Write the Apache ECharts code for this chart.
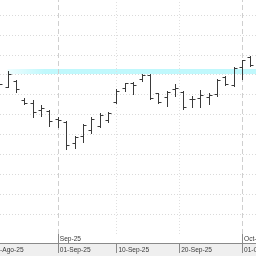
<!DOCTYPE html>
<html>
<head>
<meta charset="utf-8">
<script src="https://cdn.jsdelivr.net/npm/echarts@6/dist/echarts.min.js"></script>
<style>
  html, body { margin: 0; padding: 0; background: #fff; }
  #chart { width: 256px; height: 256px; }
</style>
</head>
<body>
<div id="chart"></div>
<script>
// sesiones (dias habiles)
var dates = ['2025-08-21', '2025-08-22', '2025-08-25', '2025-08-26', '2025-08-27', '2025-08-28', '2025-08-29',
  '2025-09-01', '2025-09-02', '2025-09-03', '2025-09-04', '2025-09-05', '2025-09-08', '2025-09-09',
  '2025-09-10', '2025-09-11', '2025-09-12', '2025-09-15', '2025-09-16', '2025-09-17', '2025-09-18',
  '2025-09-19', '2025-09-22', '2025-09-23', '2025-09-24', '2025-09-25', '2025-09-26', '2025-09-29',
  '2025-09-30', '2025-10-01', '2025-10-02']
var open = [17.73, 17.38, 17.70, 16.71, 16.60, 16.24, 16.18, 15.76, 15.62, 14.57, 14.92, 15.22, 15.42, 15.70,
  16.65, 17.32, 17.58, 17.77, 17.96, 17.06, 16.90, 17.28, 17.13, 16.78, 16.85, 16.88, 17.01, 17.90, 17.48,
  18.40, 18.87]
var high = [17.83, 18.19, 17.75, 16.84, 16.73, 16.46, 16.23, 15.87, 15.67, 14.92, 15.52, 15.87, 16.06, 16.14,
  17.27, 17.60, 17.62, 18.04, 18.02, 17.07, 17.17, 17.53, 17.18, 16.94, 17.23, 17.06, 17.78, 17.93, 18.41,
  18.76, 18.95]
var low = [17.33, 17.36, 17.11, 16.51, 15.86, 15.91, 15.44, 15.35, 14.25, 14.32, 14.62, 15.06, 15.37, 15.61,
  16.56, 17.18, 17.01, 17.70, 16.78, 16.59, 16.44, 16.95, 16.30, 16.40, 16.38, 16.53, 16.95, 17.50, 17.43,
  17.76, 18.45]
var close = [17.53, 18.01, 17.27, 16.60, 16.11, 16.35, 15.67, 15.70, 14.47, 14.89, 15.47, 15.77, 16.00, 16.10,
  17.16, 17.57, 17.50, 17.99, 16.81, 16.63, 17.12, 17.33, 16.38, 16.80, 17.00, 16.98, 17.73, 17.53, 18.36,
  18.72, 18.49]

// etiquetas del eje
var tickDates = ['2025-08-20', '2025-09-01', '2025-09-10', '2025-09-20', '2025-10-01']
var tickLabels = ['20-Ago-25', '01-Sep-25', '10-Sep-25', '20-Sep-25', '01-Oct-25']
var monthDates = ['2025-09-01', '2025-10-01']
var monthLabels = ['Sep-25', 'Oct-25']

// resistencia (maximo del 22-Ago)
var resistStart = 1
var resistLow = 18.04
var resistHigh = 18.28

var xMin = -1.33
var xMax = 30.67

// posicion de una fecha en la escala de sesiones
function dayPos (s) {
  var t0 = Date.parse(dates[0])
  var t = Date.parse(s)
  var day = 86400000
  var n = 0
  var d
  if (t >= t0) {
    for (d = t0; d < t; d += day) {
      var wd = new Date(d).getUTCDay()
      if (wd !== 0 && wd !== 6) n++
    }
  } else {
    for (d = t; d < t0; d += day) {
      var wd2 = new Date(d).getUTCDay()
      if (wd2 !== 0 && wd2 !== 6) n--
    }
  }
  var w = new Date(t).getUTCDay()
  return (w === 0 || w === 6) ? n - 0.5 : n
}

var tickPos = tickDates.map(dayPos)
var monthPos = monthDates.map(dayPos)

function labelFor (pos, list, labels) {
  var best = 0
  for (var i = 1; i < list.length; i++) {
    if (Math.abs(list[i] - pos) < Math.abs(list[best] - pos)) best = i
  }
  return labels[best]
}

var seriesData = dates.map(function (d, i) {
  return [i, open[i], close[i], low[i], high[i]]
})

function renderItem (params, api) {
  var x = api.value(0)
  var o = api.coord([x, api.value(1)])
  var c = api.coord([x, api.value(2)])
  var l = api.coord([x, api.value(3)])
  var h = api.coord([x, api.value(4)])
  var px = Math.round(o[0]) + 0.5
  var oy = Math.round(o[1]) + 0.5
  var cy = Math.round(c[1]) + 0.5
  var st = { stroke: '#3a3a3a', lineWidth: 1 }
  return {
    type: 'group',
    children: [
      { type: 'line', shape: { x1: px, y1: Math.round(h[1]), x2: px, y2: Math.round(l[1]) + 1 }, style: st },
      { type: 'line', shape: { x1: px - 3, y1: oy, x2: px, y2: oy }, style: st },
      { type: 'line', shape: { x1: px, y1: cy, x2: px + 3, y2: cy }, style: st }
    ]
  }
}

var vLines = tickPos.map(function (p) {
  var isMonth = monthPos.indexOf(p) >= 0
  return {
    xAxis: p,
    lineStyle: isMonth
      ? { color: '#cfcfcf', type: [5, 3], width: 1 }
      : { color: '#e0e0e0', type: [1, 2], width: 1 }
  }
})

var chart = echarts.init(document.getElementById('chart'))
chart.setOption({
  animation: false,
  backgroundColor: '#fff',
  graphic: [{
    type: 'rect',
    left: 0,
    bottom: 0,
    z: -10,
    shape: { width: 256, height: 13 },
    style: { fill: '#efefef' }
  }],
  grid: { left: -12, right: 0, top: 0, bottom: 22, containLabel: false, outerBoundsMode: 'none' },
  xAxis: [{
    type: 'value',
    min: xMin,
    max: xMax,
    position: 'bottom',
    offset: 9,
    axisLine: { show: true, lineStyle: { color: '#8a8a8a', width: 1 } },
    axisTick: { show: true, length: 10, customValues: tickPos, lineStyle: { color: '#8a8a8a' } },
    axisLabel: {
      customValues: tickPos,
      align: 'left',
      margin: 4,
      padding: [0, 0, 0, 2],
      fontFamily: 'Liberation Sans',
      fontSize: 6.6,
      color: '#3a3a3a',
      formatter: function (v) { return labelFor(v, tickPos, tickLabels) }
    },
    splitLine: { show: false }
  }, {
    type: 'value',
    min: xMin,
    max: xMax,
    position: 'bottom',
    offset: 0,
    axisLine: { show: false },
    axisTick: { show: true, length: 9, customValues: monthPos, lineStyle: { color: '#8a8a8a' } },
    axisLabel: {
      customValues: monthPos,
      align: 'left',
      margin: 2,
      padding: [0, 0, 0, 2],
      fontFamily: 'Liberation Sans',
      fontSize: 6.6,
      color: '#3a3a3a',
      formatter: function (v) { return labelFor(v, monthPos, monthLabels) }
    },
    splitLine: { show: false }
  }],
  yAxis: {
    type: 'value',
    min: 10,
    max: 21.75,
    interval: 1,
    axisLine: { show: false },
    axisTick: { show: false },
    axisLabel: { show: false },
    splitLine: {
      show: true,
      showMinLine: false,
      showMaxLine: false,
      lineStyle: { color: '#dadada', type: [1, 2], width: 1 }
    }
  },
  series: [{
    type: 'custom',
    renderItem: renderItem,
    xAxisIndex: 0,
    encode: { x: 0, y: [1, 2, 3, 4] },
    data: seriesData,
    z: 5,
    markLine: {
      silent: true,
      symbol: ['none', 'none'],
      label: { show: false },
      data: vLines
    },
    markArea: {
      silent: true,
      itemStyle: {
        color: new echarts.graphic.LinearGradient(0, 0, 1, 0, [
          { offset: 0, color: 'rgba(192,248,252,0.25)' },
          { offset: 0.15, color: 'rgba(192,248,252,1)' },
          { offset: 1, color: 'rgba(192,248,252,1)' }
        ])
      },
      data: [[{ xAxis: resistStart, yAxis: resistHigh }, { xAxis: xMax, yAxis: resistLow }]]
    }
  }]
})
</script>
</body>
</html>
